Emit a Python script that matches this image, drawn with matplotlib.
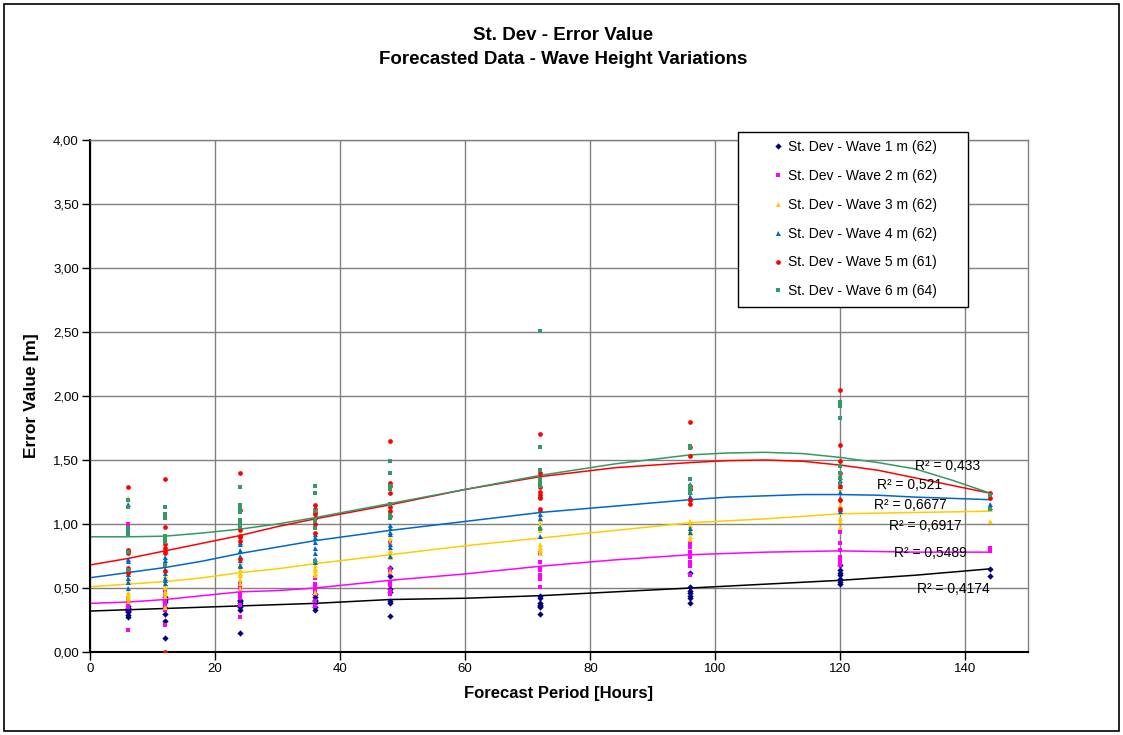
import matplotlib
matplotlib.use("Agg")
import matplotlib.pyplot as plt
from matplotlib.patches import Rectangle
from matplotlib.ticker import FuncFormatter, MultipleLocator

plt.rcParams['font.family'] = ['Liberation Sans', 'DejaVu Sans']

# ---------------- data ----------------
x_hours = [6, 12, 24, 36, 48, 72, 96, 120, 144]

wave1 = [
    [0.36, 0.34, 0.33, 0.31, 0.29, 0.27, 0.32],
    [0.43, 0.41, 0.39, 0.34, 0.30, 0.24, 0.11],
    [0.41, 0.38, 0.35, 0.33, 0.37, 0.40, 0.15],
    [0.43, 0.41, 0.38, 0.33, 0.35, 0.40, 0.45],
    [0.66, 0.59, 0.49, 0.47, 0.40, 0.38, 0.28],
    [0.44, 0.38, 0.36, 0.30, 0.37, 0.42, 0.35],
    [0.62, 0.51, 0.44, 0.42, 0.38, 0.48, 0.46],
    [0.68, 0.64, 0.60, 0.57, 0.53, 0.55, 0.62],
    [0.65, 0.59],
]
wave2 = [
    [1.00, 0.40, 0.37, 0.42, 0.35, 0.17, 0.38],
    [0.45, 0.39, 0.42, 0.36, 0.21, 0.33, 0.47],
    [0.54, 0.51, 0.45, 0.27, 0.50, 0.42, 0.37],
    [0.58, 0.51, 0.36, 0.45, 0.40, 0.48, 0.53],
    [0.85, 0.65, 0.48, 0.45, 0.62, 0.55, 0.52],
    [0.77, 0.65, 0.64, 0.57, 0.51, 0.70, 0.60],
    [0.85, 0.70, 0.67, 0.78, 0.82, 0.74, 0.60],
    [0.94, 0.74, 0.70, 0.68, 0.72, 0.80, 0.85],
    [0.81, 0.79],
]
wave3 = [
    [1.20, 0.56, 0.44, 0.42, 0.40, 0.45, 0.47],
    [0.53, 0.51, 0.48, 0.46, 0.35, 0.60, 0.44],
    [0.62, 0.60, 0.54, 0.70, 0.65, 0.57, 0.50],
    [0.68, 0.66, 0.64, 0.47, 0.72, 0.62, 0.60],
    [0.89, 0.80, 0.76, 0.74, 0.63, 0.86, 0.78],
    [1.01, 0.84, 0.80, 0.77, 0.95, 0.82, 1.04],
    [1.02, 0.99, 0.91, 0.88, 0.95, 0.97, 0.93],
    [1.28, 1.15, 1.09, 1.02, 0.98, 1.05, 1.20],
    [1.02, 1.12],
]
wave4 = [
    [1.16, 0.73, 0.71, 0.61, 0.58, 0.55, 0.50],
    [0.72, 0.58, 0.56, 0.74, 0.65, 0.54, 0.62],
    [0.84, 0.68, 0.67, 0.80, 0.72, 0.86, 0.75],
    [0.86, 0.81, 0.77, 0.73, 0.70, 0.90, 0.92],
    [0.99, 0.94, 0.92, 0.84, 0.82, 0.75, 0.97],
    [1.23, 1.22, 1.05, 0.91, 1.08, 1.12, 0.98],
    [1.31, 1.28, 1.25, 0.97, 0.94, 1.22, 1.29],
    [1.37, 1.34, 1.20, 1.12, 1.25, 1.10, 1.30],
    [1.16, 1.13],
]
wave5 = [
    [1.29, 0.80, 0.79, 0.77, 0.66, 0.63, 0.62],
    [1.35, 0.98, 0.84, 0.81, 0.79, 0.77, 0.63, 0.00],
    [1.40, 1.11, 0.95, 0.91, 0.90, 0.87, 0.73],
    [1.15, 1.09, 1.08, 1.05, 0.93, 1.12, 1.00],
    [1.65, 1.32, 1.24, 1.13, 1.06, 1.30, 1.10],
    [1.70, 1.29, 1.23, 1.12, 1.40, 1.20, 1.25],
    [1.80, 1.60, 1.53, 1.19, 1.16, 1.27, 1.30],
    [2.05, 1.62, 1.49, 1.19, 1.12, 1.40, 1.30],
    [1.24, 1.20],
]
wave6 = [
    [1.19, 1.13, 0.97, 0.95, 0.92, 0.78, 0.64],
    [1.13, 1.08, 1.05, 0.91, 0.88, 0.86, 0.68],
    [1.29, 1.15, 1.12, 1.09, 1.03, 1.00, 0.98],
    [1.30, 1.24, 1.04, 0.97, 0.71, 1.02, 1.10],
    [1.49, 1.40, 1.30, 1.27, 1.16, 1.07, 1.05],
    [2.51, 1.60, 1.42, 1.32, 0.96, 1.35, 1.30],
    [1.61, 1.59, 1.30, 1.27, 1.25, 1.35, 1.24],
    [1.95, 1.92, 1.83, 1.32, 1.45, 1.36, 1.40],
    [1.12, 1.23],
]

# trend lines
trend_x = [0, 6, 12, 18, 24, 30, 36, 48, 60, 72, 84, 96, 102, 108, 114, 120, 126, 132, 138, 144]
trend1 = [0.32, 0.33, 0.34, 0.35, 0.36, 0.37, 0.38, 0.41, 0.42, 0.44, 0.47, 0.50, 0.515, 0.53, 0.545, 0.56, 0.58, 0.60, 0.625, 0.65]
trend2 = [0.38, 0.39, 0.41, 0.44, 0.47, 0.48, 0.50, 0.56, 0.61, 0.67, 0.72, 0.76, 0.77, 0.78, 0.785, 0.79, 0.785, 0.78, 0.78, 0.78]
trend3 = [0.51, 0.53, 0.55, 0.58, 0.62, 0.65, 0.69, 0.76, 0.83, 0.89, 0.95, 1.01, 1.025, 1.04, 1.06, 1.08, 1.085, 1.09, 1.095, 1.10]
trend4 = [0.58, 0.62, 0.66, 0.71, 0.77, 0.82, 0.87, 0.95, 1.02, 1.09, 1.14, 1.19, 1.21, 1.22, 1.23, 1.23, 1.225, 1.21, 1.20, 1.19]
trend5 = [0.68, 0.73, 0.79, 0.85, 0.91, 0.98, 1.04, 1.15, 1.27, 1.37, 1.44, 1.48, 1.495, 1.50, 1.49, 1.46, 1.42, 1.36, 1.30, 1.24]
trend6 = [0.90, 0.90, 0.905, 0.93, 0.96, 1.00, 1.05, 1.16, 1.27, 1.38, 1.47, 1.54, 1.555, 1.56, 1.55, 1.52, 1.48, 1.43, 1.34, 1.24]

labels = ["St. Dev - Wave 1 m (62)", "St. Dev - Wave 2 m (62)", "St. Dev - Wave 3 m (62)",
          "St. Dev - Wave 4 m (62)", "St. Dev - Wave 5 m (61)", "St. Dev - Wave 6 m (64)"]
r2_labels = ["R\u00b2 = 0,4174", "R\u00b2 = 0,5489", "R\u00b2 = 0,6917",
             "R\u00b2 = 0,6677", "R\u00b2 = 0,521", "R\u00b2 = 0,433"]
r2_pos = [(132.2, 0.496), (128.5, 0.773), (127.7, 0.984),
          (125.3, 1.152), (125.8, 1.305), (132.0, 1.453)]

# ---------------- styles ----------------
point_colors = ['#000080', '#FF00FF', '#FFCC00', '#0066CC', '#FF0000', '#339966']
trend_colors = ['#000000', '#FF00FF', '#FFCC00', '#0066CC', '#FF0000', '#339966']
markers = ['D', 's', '^', '^', 'o', 's']
msizes = [3.2, 2.8, 3.6, 3.6, 3.4, 2.6]

W, H = 1123, 735
fig = plt.figure(figsize=(W / 100, H / 100), dpi=100)
fig.patch.set_facecolor('white')
ax = fig.add_axes([90 / W, 1 - 652 / H, (1028 - 90) / W, (652 - 140) / H])

series = [wave1, wave2, wave3, wave4, wave5, wave6]
trends = [trend1, trend2, trend3, trend4, trend5, trend6]

for i, s in enumerate(series):
    xs, ys = [], []
    for xv, col in zip(x_hours, s):
        xs.extend([xv] * len(col))
        ys.extend(col)
    ax.plot(xs, ys, linestyle='none', marker=markers[i], markersize=msizes[i],
            color=point_colors[i], markeredgewidth=0, label=labels[i], zorder=3)

for i, t in enumerate(trends):
    ax.plot(trend_x, t, color=trend_colors[i], lw=1.1, zorder=2.5)

for txt, (px, py) in zip(r2_labels, r2_pos):
    ax.text(px, py, txt, ha='left', va='center', fontsize=10, color='black', zorder=4)

ax.set_xlim(0, 150)
ax.set_ylim(0, 4)
ax.yaxis.set_major_locator(MultipleLocator(0.5))
ax.set_xticks([0, 20, 40, 60, 80, 100, 120, 140])
ax.yaxis.set_major_formatter(FuncFormatter(lambda v, p: f"{v:.2f}".replace('.', ',')))
ax.grid(True, color='#808080', lw=1.0)
ax.set_axisbelow(True)
ax.tick_params(axis='both', direction='out', length=6, width=1, labelsize=9.5, pad=2, color='black')

for side in ['left', 'bottom']:
    ax.spines[side].set_color('black')
    ax.spines[side].set_linewidth(1.5)
for side in ['top', 'right']:
    ax.spines[side].set_color('#808080')
    ax.spines[side].set_linewidth(1.0)

ax.set_xlabel("Forecast Period [Hours]", fontsize=12, fontweight='bold', labelpad=8)
ax.set_ylabel("Error Value [m]", fontsize=12.5, fontweight='bold', labelpad=10)

fig.text(563 / W, 1 - 35 / H, "St. Dev - Error Value", ha='center', va='center',
         fontsize=13.5, fontweight='bold')
fig.text(563 / W, 1 - 60 / H, "Forecasted Data - Wave Height Variations", ha='center',
         va='center', fontsize=13.5, fontweight='bold')

# legend box
box = Rectangle((738 / W, 1 - 307 / H), (968 - 738) / W, (307 - 132) / H,
                transform=fig.transFigure, facecolor='white', edgecolor='black',
                lw=1.0, zorder=4, clip_on=False)
ax.add_patch(box)
leg = ax.legend(loc='upper left', bbox_to_anchor=(771 / W, 1 - 140 / H),
                bbox_transform=fig.transFigure, frameon=False, fontsize=10,
                handlelength=1.0, handletextpad=0.25, borderpad=0, borderaxespad=0,
                labelspacing=1.07, numpoints=1, markerscale=1.0)
leg.set_zorder(5)

# figure border
fig.patches.append(Rectangle((4 / W, 4 / H), (1119 - 4) / W, (731 - 4) / H,
                             transform=fig.transFigure, fill=False, edgecolor='black',
                             lw=1.2, zorder=10))

fig.savefig("out.png", dpi=100)
